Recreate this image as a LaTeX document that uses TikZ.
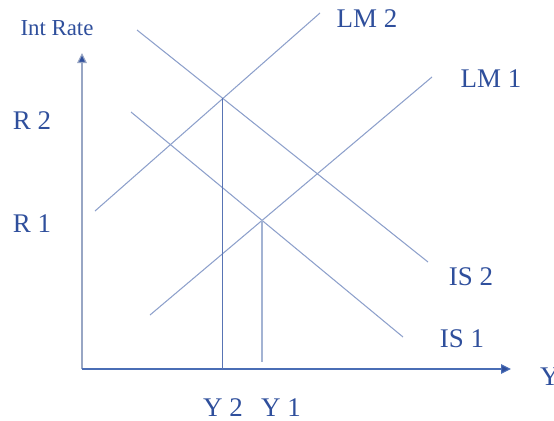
\documentclass[tikz,border=0pt]{standalone}
\usepackage{fontspec}
\setmainfont{Liberation Serif}
\usetikzlibrary{arrows.meta, positioning, calc}
\definecolor{TextBlue}{HTML}{2F4F9C}
\definecolor{CurveBlue}{HTML}{8DA0CB}
\definecolor{AxisBlue}{HTML}{4A6DB5}
\definecolor{AxisGray}{HTML}{98A6C4}
\definecolor{DropBlue}{HTML}{5874B4}
\definecolor{DropLight}{HTML}{A3B3D3}
\tikzset{
  lbl/.style={text=TextBlue, font=\fontsize{23}{26}\selectfont, inner sep=0pt},
  axislbl/.style={text=TextBlue, font=\fontsize{19.5}{22}\selectfont, inner sep=0pt},
  curve/.style={draw=CurveBlue, line width=0.9pt},
  axis/.style={-{Triangle[length=3mm, width=2.9mm, fill=TextBlue]}, line width=1pt},
  drop/.style={line width=1pt}
}
\begin{document}
\begin{tikzpicture}[x=0.03cm, y=-0.03cm]
\useasboundingbox (0,0) rectangle (554,421);

% axes
\coordinate (origin) at (82,369);
\coordinate (ytop) at (82,53);
\coordinate (xend) at (511,369);
\draw[axis, draw=AxisGray] (origin) -- (ytop);
\draw[axis, draw=AxisBlue] (origin) -- (xend);
\node[axislbl] (intrate) at (57,28) {Int Rate};
\node[lbl, anchor=west] (ylbl) at (540,377) {Y};

% LM and IS curves
\coordinate (lm2a) at (95,211);  \coordinate (lm2b) at (320,13);
\coordinate (lm1a) at (150,315); \coordinate (lm1b) at (432,77);
\coordinate (is2a) at (137,30);  \coordinate (is2b) at (428,262);
\coordinate (is1a) at (131,112); \coordinate (is1b) at (403,337);
\draw[curve] (lm2a) -- (lm2b);
\draw[curve] (lm1a) -- (lm1b);
\draw[curve] (is2a) -- (is2b);
\draw[curve] (is1a) -- (is1b);
\node[lbl] (lm2) at (367,19) {LM 2};
\node[lbl] (lm1) at (491,79) {LM 1};
\node[lbl] (is2) at (471,277) {IS 2};
\node[lbl] (is1) at (462,339) {IS 1};

% equilibria
\coordinate (eq2) at (intersection of lm2a--lm2b and is2a--is2b);
\coordinate (eq1) at (intersection of lm1a--lm1b and is1a--is1b);
\draw[drop, draw=DropBlue] (eq2) -- (eq2 |- origin);
\draw[drop, draw=DropLight] (eq1) -- ($(eq1 |- origin)+(0,-7)$);

\node[lbl] (r2) at (32,121) {R 2};
\node[lbl] (r1) at (32,224) {R 1};
\node[lbl] (y2) at (223,408) {Y 2};
\node[lbl] (y1) at (281,408) {Y 1};
\end{tikzpicture}
\end{document}
